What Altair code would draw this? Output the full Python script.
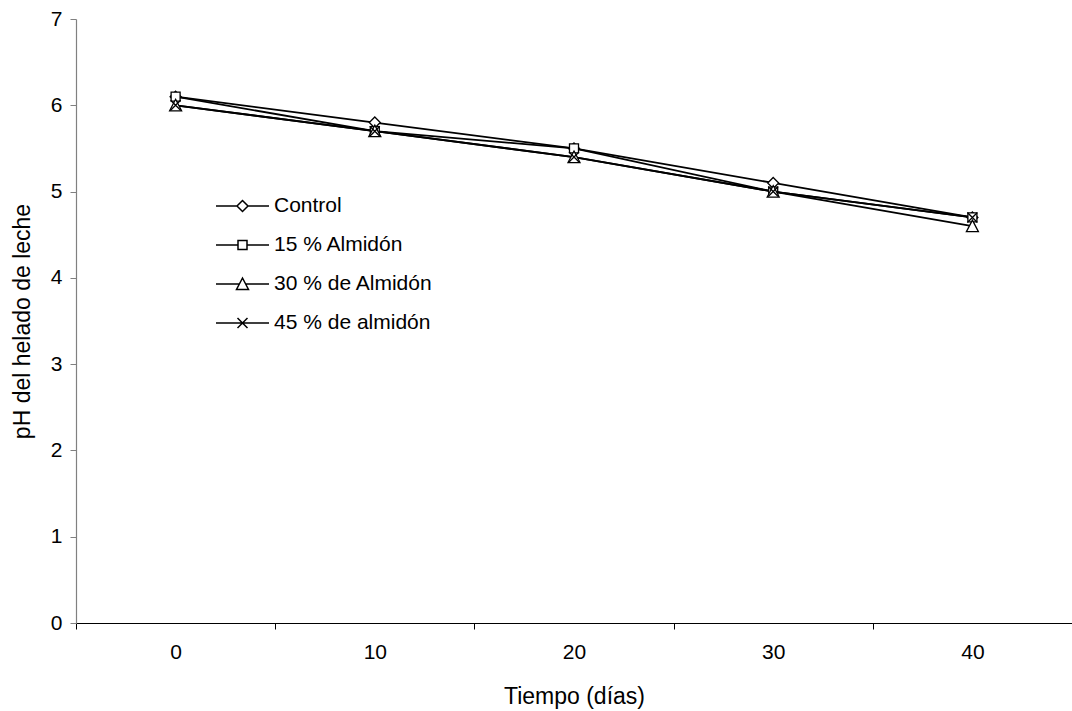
import altair as alt
import pandas as pd

days = ["0", "10", "20", "30", "40"]
series = ["Control", "15 % Almidón", "30 % de Almidón", "45 % de almidón"]
control = [6.1, 5.8, 5.5, 5.1, 4.7]
alm15 = [6.1, 5.7, 5.5, 5.0, 4.7]
alm30 = [6.0, 5.7, 5.4, 5.0, 4.6]
alm45 = [6.0, 5.7, 5.4, 5.0, 4.7]
y_ticks = [0, 1, 2, 3, 4, 5, 6, 7]

rows = []
for s, vals in zip(series, [control, alm15, alm30, alm45]):
    for d, v in zip(days, vals):
        rows.append({"dia": d, "serie": s, "ph": v})
df = pd.DataFrame(rows)

# marker shapes (unit paths, scaled by symbol size)
marker_paths = [
    "M0,-0.55L0.55,0L0,0.55L-0.55,0Z",
    "M-0.45,-0.45L0.45,-0.45L0.45,0.45L-0.45,0.45Z",
    "M0,-0.6L0.6,0.55L-0.6,0.55Z",
    "M-0.5,-0.5L0.5,0.5M-0.5,0.5L0.5,-0.5",
]
legend_paths = [
    "M-2.65,0L-0.55,0M0.55,0L2.65,0M0,-0.55L0.55,0L0,0.55L-0.55,0Z",
    "M-2.65,0L-0.45,0M0.45,0L2.65,0M-0.45,-0.45L0.45,-0.45L0.45,0.45L-0.45,0.45Z",
    "M-2.65,0L-0.31,0M0.31,0L2.65,0M0,-0.6L0.6,0.55L-0.6,0.55Z",
    "M-2.65,0L2.65,0M-0.5,-0.5L0.5,0.5M-0.5,0.5L0.5,-0.5",
]

FONT = "Liberation Sans"

x = alt.X(
    "dia:O",
    sort=days,
    bandPosition=0.5,
    scale=alt.Scale(type="band", domain=days, paddingInner=0, paddingOuter=0),
    axis=alt.Axis(
        title="Tiempo (días)",
        labelAngle=0,
        tickBand="extent",
        domainColor="black",
        domainWidth=1.2,
        tickColor="black",
        tickWidth=1,
        tickSize=6,
        labelFont=FONT,
        labelFontSize=21,
        labelColor="black",
        labelPadding=12,
        titleFont=FONT,
        titleFontSize=23,
        titleFontWeight="normal",
        titleColor="black",
        titleY=80,
        titleBaseline="alphabetic",
        grid=False,
    ),
)
y = alt.Y(
    "ph:Q",
    scale=alt.Scale(domain=[0, 7], nice=False, zero=True),
    axis=alt.Axis(
        title="pH del helado de leche",
        values=y_ticks,
        format="d",
        tickSize=6,
        tickColor="#808080",
        domainColor="#808080",
        domainWidth=1.2,
        labelFont=FONT,
        labelFontSize=21,
        labelColor="black",
        labelPadding=8,
        titleFont=FONT,
        titleFontSize=23,
        titleFontWeight="normal",
        titleColor="black",
        titleX=-54,
        titleY=302,
        titleAngle=270,
        titleAlign="center",
        titleBaseline="middle",
        grid=False,
    ),
)

base = alt.Chart(df)

lines = base.mark_line(color="black", strokeWidth=1.8).encode(
    x=x, y=y, detail="serie:N", order=alt.Order("dia_n:Q")
).transform_calculate(dia_n="toNumber(datum.dia)")

points = base.mark_point(
    filled=True, fill="white", stroke="black", strokeWidth=1.3, size=400, opacity=1
).encode(
    x=x,
    y=y,
    shape=alt.Shape("serie:N", scale=alt.Scale(domain=series, range=marker_paths), legend=None),
)

legend_layer = base.transform_filter("datum.ph < 0").mark_point(
    filled=False, color="black", strokeWidth=1.5, size=400, opacity=1
).encode(
    x=x,
    y=y,
    shape=alt.Shape(
        "serie:N",
        scale=alt.Scale(domain=series, range=legend_paths),
        legend=alt.Legend(
            title=None,
            orient="none",
            legendX=155.5,
            legendY=176,
            labelFont=FONT,
            labelFontSize=21,
            labelColor="black",
            labelOffset=20.5,
            symbolSize=400,
            symbolStrokeWidth=1.5,
            symbolStrokeColor="black",
            symbolOpacity=1,
            rowPadding=18,
            padding=0,
        ),
    ),
)

chart = (
    alt.layer(lines, points, legend_layer)
    .resolve_scale(shape="independent")
    .properties(
        width=996,
        height=604,
        autosize="none",
        padding={"left": 76, "top": 19, "right": 0, "bottom": 88},
        background="white",
    )
    .configure_view(stroke=None)
)

chart.save("out.html", embed_options={"renderer": "svg", "actions": False})
